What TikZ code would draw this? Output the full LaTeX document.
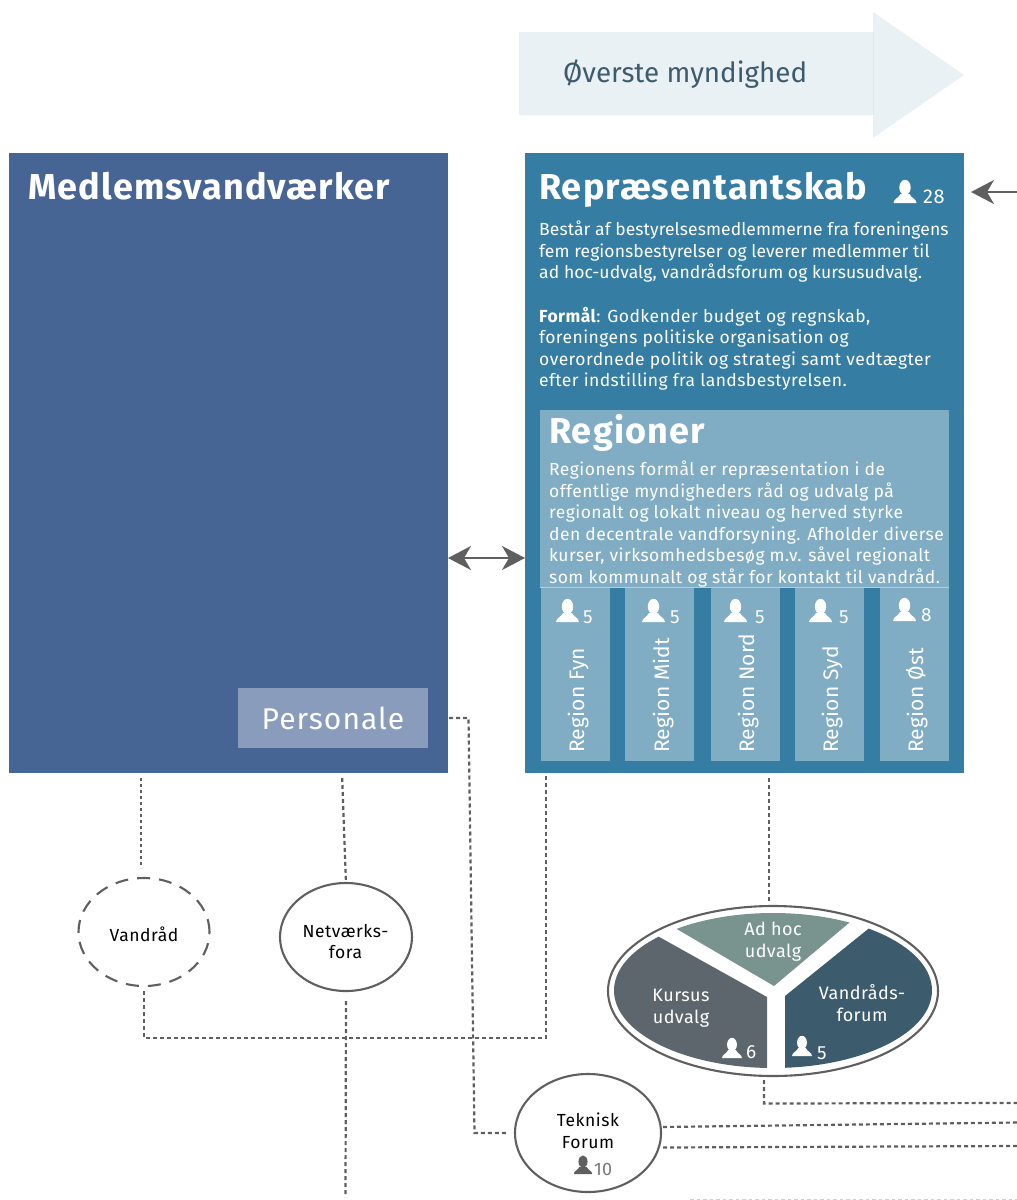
\documentclass[tikz,border=0pt]{standalone}
\usepackage{fontspec}
\setmainfont{Fira Sans}
\usetikzlibrary{arrows.meta,shapes.geometric}

\definecolor{medlemblue}{HTML}{466594}
\definecolor{reprblue}{HTML}{367DA3}
\definecolor{regionblue}{HTML}{80ADC4}
\definecolor{personalefill}{HTML}{8A9CBC}
\definecolor{arrowpale}{HTML}{E9F1F5}
\definecolor{arrowtext}{HTML}{3E5B6E}
\definecolor{linegray}{HTML}{5F5F5F}
\definecolor{adhocfill}{HTML}{79948F}
\definecolor{kursusfill}{HTML}{5E666D}
\definecolor{vandfill}{HTML}{3C5B6D}

\tikzset{person/.pic={
    \fill[pic actions] (0,-15.5) ellipse (5.7 and 7.7);
    \fill[pic actions] (-11.5,0) .. controls (-11.5,-4) and (-6,-5) .. (-4.5,-9) -- (4.5,-9) .. controls (6,-5) and (11.5,-4) .. (11.5,0) -- cycle;
}}

\begin{document}
\begin{tikzpicture}[x=1pt,y=-1pt]
    \useasboundingbox (0,0) rectangle (1017,1200);

    \tikzstyle{box}=[inner sep=0pt,outer sep=0pt,anchor=north west]
    \tikzstyle{regcol}=[box,fill=regionblue,minimum width=69pt,minimum height=173pt]
    \tikzstyle{title}=[inner sep=0pt,anchor=base west,text=white,font=\fontsize{36}{36}\selectfont\bfseries\addfontfeature{LetterSpace=3.2}]
    \tikzstyle{body}=[inner sep=0pt,anchor=north west,text=white,align=left,font=\fontsize{17.5}{21.5}\selectfont\addfontfeature{LetterSpace=0.5}]
    \tikzstyle{bodywide}=[body,font=\fontsize{17.5}{21.5}\selectfont\addfontfeature{LetterSpace=2.5}]
    \tikzstyle{regname}=[inner sep=0pt,anchor=base west,rotate=90,text=white,font=\fontsize{21}{21}\selectfont\addfontfeature{LetterSpace=1}]
    \tikzstyle{num}=[inner sep=0pt,anchor=base west,text=white,font=\fontsize{19}{19}\selectfont]
    \tikzstyle{circ}=[ellipse,inner sep=0pt,outer sep=0pt,draw=linegray,line width=2.1pt]
    \tikzstyle{circname}=[inner sep=0pt,align=center,font=\fontsize{17.5}{21.5}\selectfont\addfontfeature{LetterSpace=3}]
    \tikzstyle{seg}=[inner sep=0pt,text=white,align=center,font=\fontsize{18}{22}\selectfont\addfontfeature{LetterSpace=2.5}]
    \tikzstyle{conn}=[draw=linegray,line width=2.2pt,dash pattern=on 4pt off 3pt]
    \tikzstyle{fine}=[draw=linegray,line width=1.9pt,dash pattern=on 3pt off 3pt]
    \tikzstyle{big}=[draw=linegray,line width=1.8pt,{Stealth[length=23pt,width=24pt,inset=7pt]}-{Stealth[length=23pt,width=24pt,inset=7pt]}]
    \tikzstyle{bigend}=[draw=linegray,line width=1.8pt,-{Stealth[length=23pt,width=24pt,inset=7pt]}]

    % arrow on top
    \fill[arrowpale] (519,32) -- (873,32) -- (873,12) -- (964,75) -- (873,138) -- (873,115) -- (519,115) -- cycle;
    \draw[arrowpale!96!black,line width=0.6pt] (873,32) -- (873,115);
    \node[inner sep=0pt,anchor=base west,text=arrowtext,font=\fontsize{27.8}{28}\selectfont] (myndighed) at (563,82) {Øverste myndighed};

    % big boxes
    \node[box,fill=medlemblue,minimum width=439pt,minimum height=620pt] (medlem) at (9,153) {};
    \node[box,fill=reprblue,minimum width=439pt,minimum height=620pt] (repr) at (525,153) {};
    \node[box,fill=regionblue,minimum width=409pt,minimum height=177pt] (regioner) at (540,410) {};
    \node[box,fill=personalefill,minimum width=190pt,minimum height=60pt,text=white,font=\fontsize{30}{30}\selectfont\addfontfeature{LetterSpace=3.5}] (personale) at (238,688) {Personale};
    \draw[draw=regionblue!60!white,line width=0.8pt] (regioner.south west) -- (regioner.south east);

    \node[title] (medlemtitle) at (28,199) {Medlemsvandværker};
    \node[title] (reprtitle) at (539,199) {Repræsentantskab};
    \node[title] (regiontitle) at (549,443) {Regioner};

    \node[body] (reprbody) at (539,221) {Består af bestyrelsesmedlemmerne fra foreningens\\fem regionsbestyrelser og leverer medlemmer til\\ad hoc-udvalg, vandrådsforum og kursusudvalg.};
    \node[bodywide] (reprgoal) at (539,307) {\textbf{Formål}: Godkender budget og regnskab,\\foreningens politiske organisation og\\overordnede politik og strategi samt vedtægter\\efter indstilling fra landsbestyrelsen.};
    \node[bodywide] (regionbody) at (549,461) {Regionens formål er repræsentation i de\\offentlige myndigheders råd og udvalg på\\regionalt og lokalt niveau og herved styrke\\den decentrale vandforsyning. Afholder diverse\\kurser, virksomhedsbesøg m.v. såvel regionalt\\som kommunalt og står for kontakt til vandråd.};

    \pic[fill=white] at (905,203) {person};
    \node[num,font=\fontsize{20}{20}\selectfont\addfontfeature{LetterSpace=3}] (reprnum) at (923,203) {28};

    % regions
    \node[regcol] (fyn) at (541,588) {};
    \node[regcol] (midt) at (625,588) {};
    \node[regcol] (nord) at (711,588) {};
    \node[regcol] (syd) at (795,588) {};
    \node[regcol] (ost) at (880,588) {};

    \node[regname] (fynname) at (584,753) {Region Fyn};
    \node[regname] (midtname) at (669,753) {Region Midt};
    \node[regname] (nordname) at (754,753) {Region Nord};
    \node[regname] (sydname) at (838,753) {Region Syd};
    \node[regname] (ostname) at (923,753) {Region Øst};

    \pic[fill=white] at (567.5,622) {person};
    \pic[fill=white] at (653.5,622) {person};
    \pic[fill=white] at (735.5,622) {person};
    \pic[fill=white] at (820.5,622) {person};
    \pic[fill=white] at (904.5,621) {person};
    \node[num] (fynnum) at (583,623) {5};
    \node[num] (midtnum) at (670,623) {5};
    \node[num] (nordnum) at (755,623) {5};
    \node[num] (sydnum) at (839,623) {5};
    \node[num] (ostnum) at (921,621) {8};

    % circles below
    \node[circ,dash pattern=on 13pt off 9pt,minimum width=131pt,minimum height=108pt] (vandrad) at (144,932) {};
    \node[circname] (vandradname) at (144,934) {Vandråd};
    \node[circ,minimum width=132pt,minimum height=108pt] (netvaerk) at (346,937) {};
    \node[circname] (netvaerkname) at (345.5,941.5) {Netværks-\\fora};
    \node[circ,minimum width=146pt,minimum height=118pt] (teknisk) at (588,1133) {};
    \node[circname] (tekniskname) at (588,1131) {Teknisk\\Forum};
    \pic[fill=linegray,scale=0.8] at (583,1174) {person};
    \node[num,text=linegray!85,font=\fontsize{18}{18}\selectfont] (tekniknum) at (594,1175) {10};

    % the three committees
    \node[circ,minimum width=330pt,minimum height=170pt] (udvalg) at (773,991) {};
    \begin{scope}
      \clip (773,990.5) ellipse (159 and 77.5);
      \fill[adhocfill] (774,986) -- (950,838) -- (950,800) -- (600,800) -- (600,884) -- cycle;
      \fill[kursusfill] (767,997) -- (600,904) -- (560,1100) -- (767,1100) -- cycle;
      \fill[vandfill] (785,996) -- (950,863) -- (950,1100) -- (785,1100) -- cycle;
    \end{scope}
    \node[seg] (adhoc) at (773,942) {Ad hoc\\udvalg};
    \node[seg] (kursus) at (681,1008) {Kursus\\udvalg};
    \node[seg] (vandforum) at (862,1003) {Vandråds-\\forum};
    \pic[fill=white,scale=0.87] at (732,1058) {person};
    \pic[fill=white,scale=0.87] at (802,1056) {person};
    \node[num] (kursusnum) at (746,1058) {6};
    \node[num] (vandnum) at (817,1059) {5};

    % free ends and bends of the lines
    \coordinate (arrowin) at (1017,192);
    \coordinate (medlemside) at (448,558);
    \coordinate (reprside) at (525,558);
    \coordinate (reprhead) at (964,192);
    \coordinate (medlemvand) at (141,773);
    \coordinate (vandtop) at (141,868);
    \coordinate (medlemnet) at (342,773);
    \coordinate (reprvand) at (546,773);
    \coordinate (vandbend) at (144,1038);
    \coordinate (reprbend) at (546,1038);
    \coordinate (reprudvalg) at (769,773);
    \coordinate (personbend) at (468.5,718);
    \coordinate (tekbend) at (474.5,1133);
    \coordinate (netend) at (345.5,1197);
    \coordinate (udvalgstart) at (764,1076);
    \coordinate (udvalgbend) at (764,1103.5);
    \coordinate (udvalgend) at (1017,1103);
    \coordinate (tekstart) at (661,1127);
    \coordinate (tekend) at (1017,1122.5);
    \coordinate (tekstartb) at (661,1147.5);
    \coordinate (tekendb) at (1017,1146);
    \coordinate (paleleft) at (690,1199.5);
    \coordinate (paleright) at (1017,1199.5);

    \draw [big] (medlemside) -- (reprside);
    \draw [bigend,shorten >=7pt] (arrowin) -- (reprhead);

    \draw [fine,shorten <=5pt] (medlemvand) -- (vandtop);
    \draw [conn,shorten <=5pt] (medlemnet) -- (netvaerk.north);
    \draw [conn,shorten <=5pt] (vandrad.south) -- (vandbend) -- (reprbend) -- (reprvand);
    \draw [conn,shorten <=10pt] (netvaerk.south) -- (netend);
    \draw [conn,shorten <=5pt,shorten >=3pt] (reprudvalg) -- (udvalg.north -| reprudvalg);
    \draw [conn,shorten <=21pt,shorten >=7pt] (personale.east) -- (personbend) -- (tekbend) -- (teknisk.west);
    \draw [conn,shorten <=4pt] (udvalgstart) -- (udvalgbend) -- (udvalgend);
    \draw [conn,shorten <=2pt] (tekstart) -- (tekend);
    \draw [conn,shorten <=2pt] (tekstartb) -- (tekendb);
    \draw [draw=linegray!30,line width=1pt,dash pattern=on 3.5pt off 3pt] (paleleft) -- (paleright);

\end{tikzpicture}
\end{document}
